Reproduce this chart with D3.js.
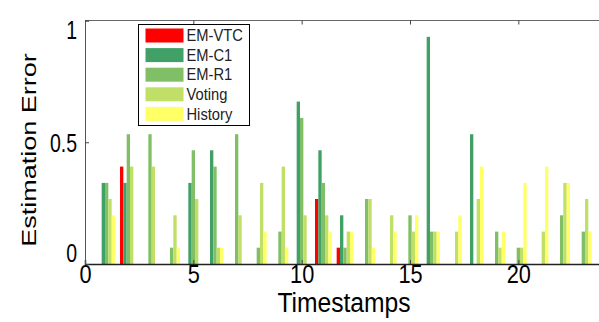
<!DOCTYPE html>
<html>
<head>
<meta charset="utf-8">
<script src="https://cdn.jsdelivr.net/npm/d3@7"></script>
<style>
  html, body { margin: 0; padding: 0; background: #fff; }
  svg { display: block; font-family: "Liberation Sans", Arial, sans-serif; }
</style>
</head>
<body>
<div id="chart"></div>
<script>
// timestamps on the x axis
const timestamps = [1, 2, 3, 4, 5, 6, 7, 8, 9, 10, 11, 12, 13, 14, 15, 16, 17, 18, 19, 20, 21, 22, 23];

// estimation error per method
const emVtc   = [0, 0.4, 0, 0, 0, 0, 0, 0, 0, 0, 0.267, 0.067, 0, 0, 0, 0, 0, 0, 0, 0, 0, 0, 0];
const emC1    = [0.333, 0.333, 0, 0, 0.333, 0.467, 0, 0, 0, 0.667, 0.467, 0.2, 0, 0, 0, 0.933, 0, 0.533, 0, 0, 0, 0, 0];
const emR1    = [0.333, 0.533, 0.533, 0.067, 0.467, 0.4, 0.533, 0.067, 0.133, 0.6, 0.333, 0.067, 0.267, 0, 0.2, 0.133, 0, 0, 0.133, 0.067, 0, 0.2, 0.133];
const voting  = [0.267, 0.4, 0.4, 0.2, 0.267, 0.067, 0.2, 0.333, 0.4, 0.2, 0.2, 0.133, 0.267, 0.2, 0.133, 0.133, 0.133, 0.267, 0.067, 0.067, 0.133, 0.333, 0.267];
const history = [0.2, 0, 0, 0.067, 0, 0.067, 0, 0.133, 0.067, 0, 0.133, 0.133, 0.067, 0.133, 0.2, 0.133, 0.2, 0.4, 0.133, 0.333, 0.4, 0.333, 0.133];

const seriesNames = ["EM-VTC", "EM-C1", "EM-R1", "Voting", "History"];
const seriesValues = [emVtc, emC1, emR1, voting, history];
const colors = ["#ff0000", "#40a066", "#80bf66", "#bfdf66", "#ffff66"];

const xTicks = [0, 5, 10, 15, 20];
const yTicks = [0, 0.5, 1];

const W = 599, H = 322;
const margin = {top: 20.5, right: -6, bottom: 58, left: 85};
const sx = 0.75; // the figure was squeezed horizontally

const svg = d3.select("#chart").append("svg")
  .attr("width", W)
  .attr("height", H);

const x = d3.scaleLinear().domain([0, 24]).range([margin.left, W - margin.right]);
const y = d3.scaleLinear().domain([0, 1]).range([H - margin.bottom, margin.top]);

// grouped bars, MATLAB style
const groupWidth = 5 / (5 + 1.5);
const bw = groupWidth / 5;

seriesValues.forEach((vals, i) => {
  svg.append("g")
    .selectAll("rect")
    .data(vals.map((v, j) => ({t: timestamps[j], v: v})).filter(d => d.v > 0))
    .join("rect")
    .attr("x", d => x(d.t + (i - 2) * bw - bw / 2))
    .attr("width", d => x(bw) - x(0))
    .attr("y", d => y(d.v))
    .attr("height", d => y(0) - y(d.v))
    .attr("fill", colors[i]);
});

// axes box
const boxColor = "#444";
svg.append("line")
  .attr("x1", x(0)).attr("x2", W).attr("y1", y(1)).attr("y2", y(1))
  .attr("stroke", "#666").attr("stroke-width", 1);

const xAxis = svg.append("g")
  .attr("transform", "translate(0," + y(0) + ")")
  .call(d3.axisBottom(x).tickValues(xTicks).tickSize(-4).tickPadding(6).tickFormat(d3.format("d")));
xAxis.select(".domain").attr("stroke", "#222").attr("stroke-width", 1.5);
xAxis.selectAll(".tick line").attr("stroke", boxColor);
xAxis.selectAll(".tick text")
  .attr("font-size", 25).attr("fill", "#000")
  .attr("transform", "scale(0.87,1)")
  .attr("y", 1);

// top ticks
svg.append("g")
  .attr("transform", "translate(0," + y(1) + ")")
  .call(d3.axisTop(x).tickValues(xTicks).tickSize(-4).tickFormat(""))
  .call(g => g.select(".domain").remove())
  .selectAll(".tick line").attr("stroke", boxColor);

const yAxis = svg.append("g")
  .attr("transform", "translate(" + x(0) + ",0)")
  .call(d3.axisLeft(y).tickValues(yTicks).tickSize(-4).tickPadding(0).tickFormat(d => d === 0.5 ? "0.5" : d3.format("d")(d)));
yAxis.select(".domain").attr("stroke", "#555");
yAxis.selectAll(".tick line").attr("stroke", boxColor);
yAxis.selectAll(".tick text")
  .attr("font-size", 26).attr("fill", "#000")
  .attr("transform", "scale(" + sx + ",1)")
  .attr("x", -8 / sx)
  .attr("dy", d => d === 1 ? "0.7em" : d === 0 ? "-0.08em" : "0.34em");

// axis titles
svg.append("text")
  .attr("transform", "translate(" + 36 + "," + 150 + ") scale(" + sx + ",1) rotate(-90)")
  .attr("text-anchor", "middle")
  .attr("font-size", 27)
  .attr("fill", "#000")
  .text("Estimation Error");

svg.append("text")
  .attr("transform", "translate(" + 344 + "," + 312 + ") scale(0.88,1)")
  .attr("text-anchor", "middle")
  .attr("font-size", 28)
  .attr("fill", "#000")
  .text("Timestamps");

// legend
const legend = svg.append("g").attr("transform", "translate(138.5,24.5)");
legend.append("rect")
  .attr("width", 111).attr("height", 101)
  .attr("fill", "#fff").attr("stroke", "#000").attr("stroke-width", 1);

const item = legend.selectAll("g.item")
  .data(seriesNames)
  .join("g")
  .attr("class", "item")
  .attr("transform", (d, i) => "translate(0," + (11 + i * 19.6) + ")");

item.append("rect")
  .attr("x", 7).attr("y", -7)
  .attr("width", 38).attr("height", 14)
  .attr("fill", (d, i) => colors[i]);

item.append("text")
  .attr("transform", "translate(48,0) scale(0.92,1)")
  .attr("dy", "0.36em")
  .attr("font-size", 16)
  .attr("fill", "#222")
  .text(d => d);
</script>
</body>
</html>
